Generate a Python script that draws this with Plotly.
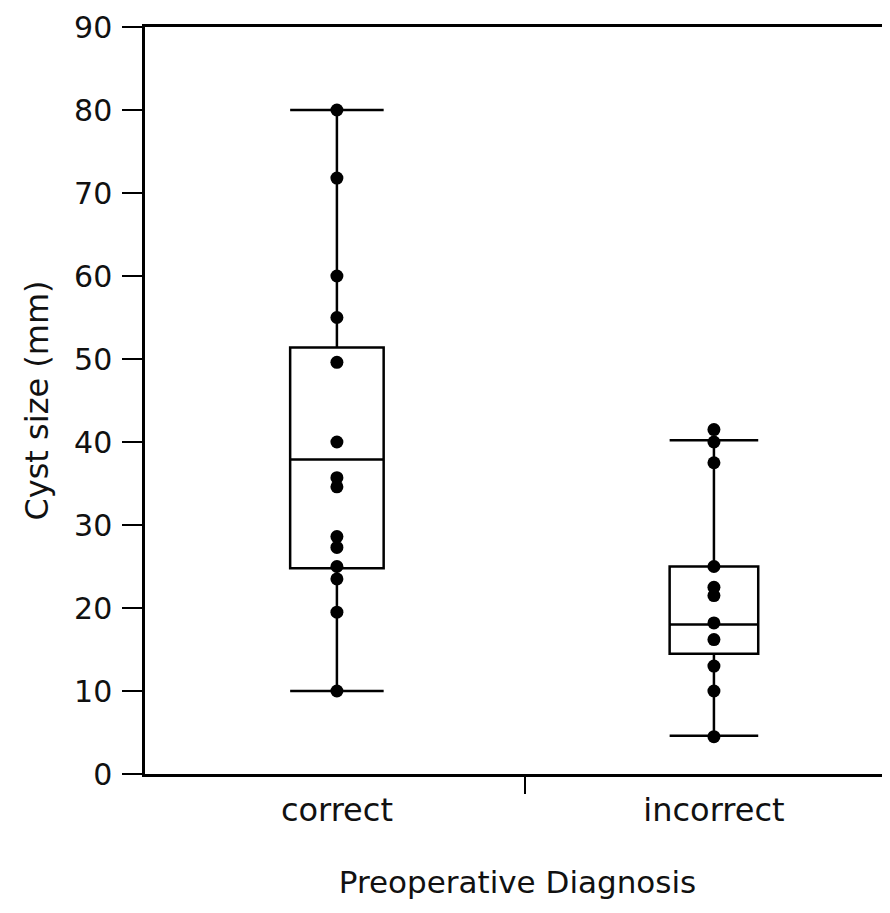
import plotly.graph_objects as go

categories = ["correct", "incorrect"]
cat_pos = [0, 1]

# Individual observations (mm)
correct_values = [80, 71.8, 60, 55, 49.6, 40, 35.7, 34.6, 28.6, 27.3, 25, 23.5, 19.5, 10]
incorrect_values = [41.5, 40, 37.5, 25, 22.5, 21.5, 18.2, 16.2, 13, 10, 4.5]

# Box statistics
q1 = [24.8, 14.5]
median = [37.9, 18.0]
q3 = [51.4, 25.0]
lowerfence = [10, 4.6]
upperfence = [80, 40.2]
box_widths = [0.248, 0.235]

y_ticks = [0, 10, 20, 30, 40, 50, 60, 70, 80, 90]

FONT = "DejaVu Sans"

fig = go.Figure()

for i, pos in enumerate(cat_pos):
    fig.add_trace(go.Box(
        x=[pos], q1=[q1[i]], median=[median[i]], q3=[q3[i]],
        lowerfence=[lowerfence[i]], upperfence=[upperfence[i]],
        width=box_widths[i], whiskerwidth=1,
        fillcolor="rgba(0,0,0,0)",
        line=dict(color="black", width=2.5),
        boxpoints=False, showlegend=False, hoverinfo="skip",
    ))

for pos, vals in zip(cat_pos, [correct_values, incorrect_values]):
    fig.add_trace(go.Scatter(
        x=[pos] * len(vals), y=vals, mode="markers",
        marker=dict(color="black", size=13, symbol="circle"),
        showlegend=False,
    ))

fig.update_layout(
    width=882, height=897,
    margin=dict(l=137, r=0, t=19, b=131),
    plot_bgcolor="white", paper_bgcolor="white",
    font=dict(family=FONT, color="#111", size=30),
    showlegend=False,
)

fig.update_xaxes(
    range=[-0.509, 1.467],
    tickmode="array", tickvals=cat_pos, ticktext=categories,
    ticks="", showgrid=False, zeroline=False,
    showline=True, linecolor="black", linewidth=2.5, mirror=True,
    tickfont=dict(size=32), ticklabelstandoff=6,
    minor=dict(tickmode="array", tickvals=[0.5], ticks="outside",
               ticklen=17, tickwidth=2, tickcolor="black", showgrid=False),
    title=dict(text="Preoperative Diagnosis", font=dict(size=31), standoff=44),
)

fig.update_yaxes(
    range=[0, 90],
    tickmode="array", tickvals=y_ticks,
    ticks="outside", ticklen=20, tickwidth=2, tickcolor="black",
    showgrid=False, zeroline=False,
    showline=True, linecolor="black", linewidth=2.5, mirror=False,
    tickfont=dict(size=30), ticklabelstandoff=4,
    title=dict(text="Cyst size (mm)", font=dict(size=32), standoff=16),
)

fig.write_html("out.html")
